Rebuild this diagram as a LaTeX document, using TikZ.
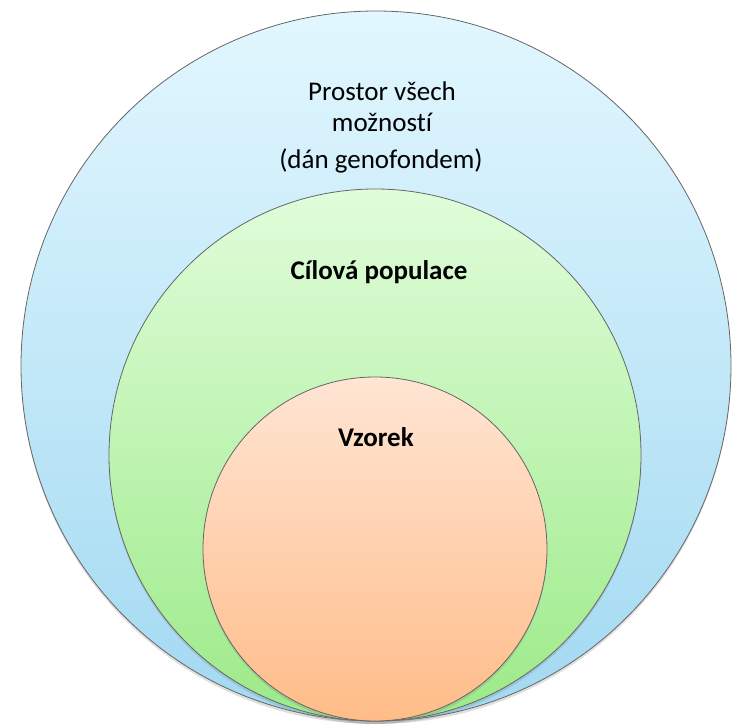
\documentclass[tikz,border=0pt]{standalone}
\usepackage{fontspec}
\setmainfont[Ligatures=NoCommon]{Carlito}
\usetikzlibrary{shadows}

\definecolor{modraHore}{HTML}{E2F7FF}
\definecolor{modraDole}{HTML}{A2D9F1}
\definecolor{zelenaHore}{HTML}{E0FDDA}
\definecolor{zelenaDole}{HTML}{9CEA88}
\definecolor{oranzHore}{HTML}{FFE5D3}
\definecolor{oranzDole}{HTML}{FFBC88}

\begin{document}
\begin{tikzpicture}[
  x=1pt, y=-1pt,
  kruh/.style={circle, draw=black!60, line width=0.8pt, inner sep=0pt,
    drop shadow={shadow xshift=0pt, shadow yshift=-3pt, opacity=0.25}},
  popisek/.style={font=\fontsize{27}{31}\selectfont, align=center, inner sep=0pt},
  tucny/.style={popisek, font=\fontsize{27}{31}\selectfont\bfseries}
]
  \useasboundingbox (0,0) rectangle (745,728);

  \node[kruh, minimum size=710pt, top color=modraHore, bottom color=modraDole] (prostor) at (376,366) {};
  \node[kruh, minimum size=532pt, top color=zelenaHore, bottom color=zelenaDole] (populace) at (375,455) {};
  \node[kruh, minimum size=344pt, top color=oranzHore, bottom color=oranzDole] (vzorek) at (375,549) {};

  \node[popisek] (prostorText) at (382,107) {Prostor všech\\možností};
  \node[popisek] (genofond) at (381,161) {(dán genofondem)};
  \node[tucny] (populaceText) at (379,272) {Cílová populace};
  \node[tucny] (vzorekText) at (376,437) {Vzorek};
\end{tikzpicture}
\end{document}
